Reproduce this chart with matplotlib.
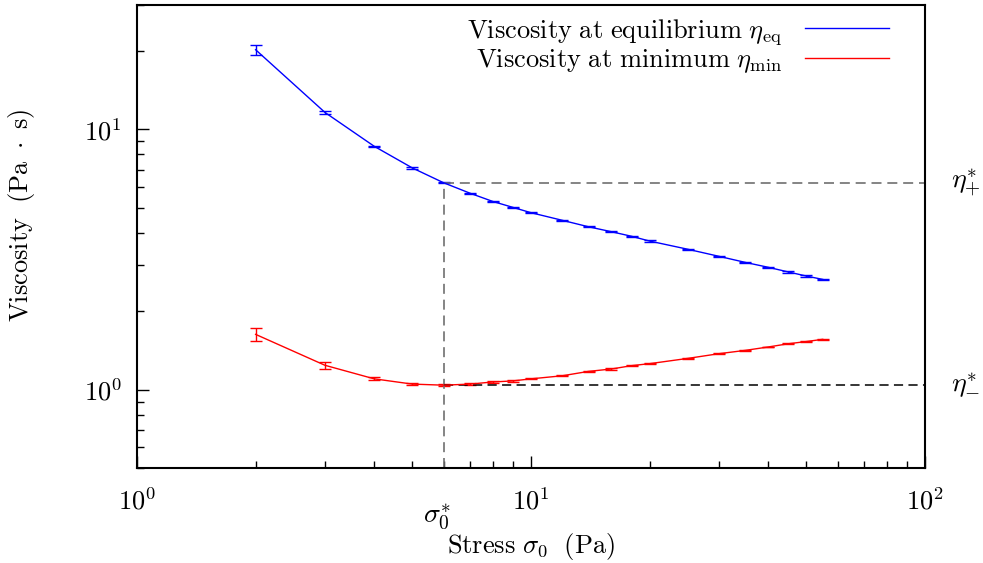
import matplotlib
matplotlib.use("Agg")
import matplotlib.pyplot as plt
import matplotlib.transforms as mtransforms
from matplotlib.ticker import LogLocator, NullFormatter

plt.rcParams['font.family'] = 'serif'
plt.rcParams['font.serif'] = ['cmr10', 'DejaVu Serif']
plt.rcParams['mathtext.fontset'] = 'cm'
plt.rcParams['axes.formatter.use_mathtext'] = True

# Data
stress = [2, 3, 4, 5, 6, 7, 8, 9, 10, 12, 14, 16, 18, 20, 25, 30, 35, 40, 45, 50, 55]
eta_eq = [20.2, 11.6, 8.6, 7.1, 6.23, 5.68, 5.28, 5.01, 4.78, 4.47, 4.22, 4.04, 3.88,
          3.72, 3.46, 3.25, 3.08, 2.95, 2.83, 2.73, 2.65]
eta_eq_err = [0.85, 0.17, 0.06, 0.05, 0.04, 0.03, 0.03, 0.03, 0.03, 0.02, 0.02, 0.02, 0.02,
              0.02, 0.02, 0.02, 0.02, 0.02, 0.02, 0.02, 0.02]
eta_min = [1.63, 1.24, 1.10, 1.05, 1.04, 1.05, 1.07, 1.08, 1.10, 1.13, 1.175, 1.20, 1.236,
           1.258, 1.318, 1.374, 1.415, 1.458, 1.50, 1.53, 1.56]
eta_min_err = [0.09, 0.04, 0.015, 0.008, 0.008, 0.006, 0.006, 0.006, 0.006, 0.006, 0.006,
               0.006, 0.006, 0.006, 0.006, 0.006, 0.006, 0.006, 0.006, 0.006, 0.006]
sigma_star = 6
eta_plus = 6.23
eta_minus = 1.04

FS = 19

fig = plt.figure(figsize=(9.83, 5.63), dpi=100)
ax = fig.add_axes([137/983, 1 - 468/563, (925-137)/983, (468-5)/563])

ax.errorbar(stress, eta_eq, yerr=eta_eq_err, color='#0000ff', lw=1.0, capsize=4,
            elinewidth=1.0, capthick=1.0, label=r'$\mathrm{Viscosity\ at\ equilibrium}\ \eta_{\mathrm{eq}}$')
ax.errorbar(stress, eta_min, yerr=eta_min_err, color='#ff0000', lw=1.0, capsize=4,
            elinewidth=1.0, capthick=1.0, label=r'$\mathrm{Viscosity\ at\ minimum}\ \eta_{\mathrm{min}}$')

dash = (0, (6, 3.5))
ax.vlines(sigma_star, 0.5, eta_plus, colors='#707070', linestyles=dash, lw=1.2)
ax.hlines(eta_plus, sigma_star, 100, colors='#707070', linestyles=dash, lw=1.2)
ax.hlines(eta_minus, sigma_star, 100, colors='#000000', linestyles=dash, lw=1.1)

ax.set_xscale('log')
ax.set_yscale('log')
ax.set_xlim(1, 100)
ax.set_ylim(0.5, 30)

ax.tick_params(which='both', direction='in', top=False, right=False, labelsize=FS)
ax.tick_params(which='major', length=8.6, width=1.0)
ax.tick_params(which='minor', length=5, width=1.0)
ax.tick_params(axis='x', which='major', pad=14)
ax.tick_params(axis='y', which='major', pad=11)
ax.xaxis.set_minor_formatter(NullFormatter())
ax.yaxis.set_minor_formatter(NullFormatter())
ax.yaxis.set_major_locator(LogLocator(base=10, numticks=10))
ax.yaxis.set_minor_locator(LogLocator(base=10, subs=range(2, 10), numticks=20))
for s in ax.spines.values():
    s.set_linewidth(1.5)

ax.set_xlabel(r'$\mathrm{Stress}\ \sigma_0\ \ (\mathrm{Pa})$', fontsize=FS)
ax.set_ylabel(r'$\mathrm{Viscosity}\ \ (\mathrm{Pa}\ \cdot\ \mathrm{s})$', fontsize=FS)
ax.xaxis.set_label_coords(0.5, -0.135)
ax.yaxis.set_label_coords(-0.127, 0.546)

tr_r = mtransforms.blended_transform_factory(ax.transAxes, ax.transData)
ax.text(1.052, eta_plus, r'$\eta_{+}^{*}$', transform=tr_r, fontsize=FS + 1, ha='center', va='center')
ax.text(1.052, eta_minus, r'$\eta_{-}^{*}$', transform=tr_r, fontsize=FS + 1, ha='center', va='center')
tr_b = mtransforms.blended_transform_factory(ax.transData, ax.transAxes) + \
    mtransforms.ScaledTranslation(7/100, 0, fig.dpi_scale_trans)
ax.text(sigma_star, -0.105, r'$\sigma_0^{*}$', transform=tr_b, fontsize=FS + 1, ha='right', va='center')

h, l = ax.get_legend_handles_labels()
h = [hh[0] for hh in h]
leg = ax.legend(h, l, loc='upper right', markerfirst=False, frameon=False, fontsize=FS,
                handlelength=3.2, handletextpad=0.85, borderaxespad=0.05, labelspacing=0.02,
                bbox_to_anchor=(1 - 24/788, 1.0))

fig.savefig('out.png', dpi=100)
